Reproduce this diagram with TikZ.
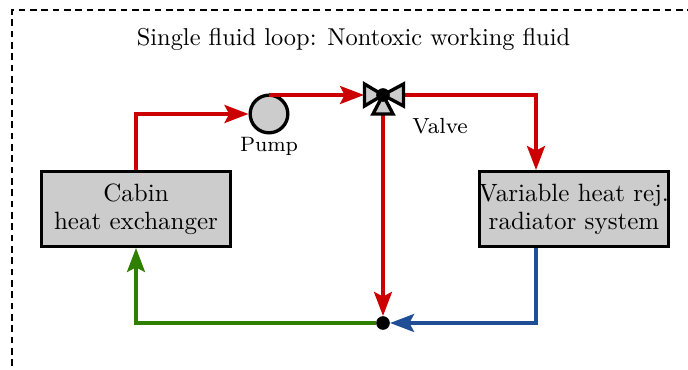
\documentclass[tikz,border=0pt]{standalone}
\usetikzlibrary{arrows.meta}
\definecolor{flred}{HTML}{CC0000}
\definecolor{flgreen}{HTML}{2F8000}
\definecolor{flblue}{HTML}{1F4E96}
\definecolor{flgray}{HTML}{CCCCCC}
\tikzset{
  x=0.75pt,y=-0.75pt,
  box/.style={draw=black,line width=2.5pt,fill=flgray,minimum width=142pt,minimum height=56pt,inner sep=0pt},
  pumpnode/.style={circle,draw=black,line width=2.5pt,fill=flgray,minimum size=28.25pt,inner sep=0pt},
  dotnode/.style={circle,fill=black,draw=none,minimum size=10.25pt,inner sep=0pt},
  lbl/.style={font=\fontsize{8}{10}\selectfont,inner sep=0pt,scale=1.95},
  vlbl/.style={font=\fontsize{8}{10}\selectfont,inner sep=0pt,scale=2.05},
  title/.style={font=\fontsize{10}{11}\selectfont,inner sep=0pt,scale=1.83},
  boxtext/.style={font=\fontsize{10}{11}\selectfont,inner sep=0pt,scale=1.875,align=center},
  flow/.style={line width=2.5pt,-{Stealth[length=18pt,width=13.5pt,inset=3.5pt]}},
  valvepart/.style={draw=black,fill=flgray,line width=2.5pt,line join=miter},
  frame/.style={draw=black,line width=1.4pt,dash pattern=on 5pt off 3.5pt},
}
\begin{document}
\begin{tikzpicture}
\useasboundingbox (0,0) rectangle (688,370);
\draw[frame] (12,366) -- (12,10) -- (688,10);
\node[title] (t) at (353.5,39.5) {Single fluid loop: Nontoxic working fluid};
\node[box] (cabin) at (136,209) {};
\node[boxtext] (cabint) at (136,209.5) {Cabin\\heat exchanger};
\node[box] (rad) at (574,209) {};
\node[boxtext] (radt) at (574,209.5) {Variable heat rej.\\radiator system};
\node[pumpnode] (pump) at (269,114) {};
\node[lbl] (pl) at (269,146) {Pump};
\node[vlbl] (vl) at (440,126.5) {Valve};
\coordinate (valve) at (383,95);
\coordinate (vL) at (364,95);
\coordinate (vR) at (404,95);
\coordinate (vB) at (383,114);
\node[dotnode] (junction) at (383,323) {};
\coordinate (c1) at (136,114);
\coordinate (c2) at (536,95);
\coordinate (c3) at (536,323);
\coordinate (c4) at (136,323);
\draw[flow,flred] (cabin.north) -- (c1) -- (pump.west);
\draw[flow,flred] (pump.north |- vL) -- (vL);
\draw[flow,flred] (vR) -- (c2) -- (rad.north -| c2);
\draw[flow,flred] (vB) -- (junction.north);
\draw[flow,flblue] (rad.south -| c3) -- (c3) -- (junction.east);
\draw[flow,flgreen] (junction.west) -- (c4) -- (cabin.south);
\draw[valvepart] (valve) -- (364.5,84) -- (364.5,106) -- cycle;
\draw[valvepart] (valve) -- (403.5,84) -- (403.5,106) -- cycle;
\draw[valvepart] (valve) -- (373,114) -- (393,114) -- cycle;
\node[dotnode] (vd) at (valve) {};
\end{tikzpicture}
\end{document}
